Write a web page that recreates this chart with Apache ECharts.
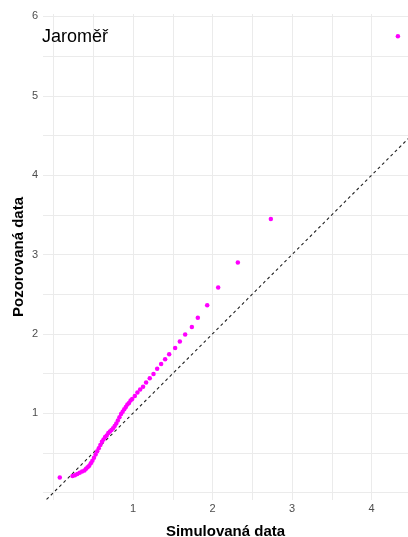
<!DOCTYPE html>
<html>
<head>
<meta charset="utf-8">
<title>Jaroměř</title>
<script src="https://cdn.jsdelivr.net/npm/echarts@6/dist/echarts.min.js"></script>
<style>
  html, body { margin: 0; padding: 0; background: #fff; }
  #chart { width: 408px; height: 537px; }
</style>
</head>
<body>
<div id="chart"></div>
<script>
// simulované (x) a pozorované (y) kvantily
var simData = [
  0.08, 0.24, 0.27, 0.30, 0.33, 0.36, 0.39, 0.41, 0.43, 0.45,
  0.47, 0.49, 0.51, 0.53, 0.55, 0.57, 0.59, 0.61, 0.63, 0.65,
  0.67, 0.69, 0.71, 0.73, 0.75, 0.77, 0.79, 0.81, 0.83, 0.85,
  0.87, 0.89, 0.91, 0.93, 0.95, 0.97, 0.99, 1.023, 1.056, 1.09,
  1.127, 1.165, 1.211, 1.258, 1.304, 1.354, 1.404, 1.455, 1.53, 1.589,
  1.656, 1.74, 1.815, 1.933, 2.071, 2.318, 2.733, 4.33
]
var obsData = [
  0.19, 0.21, 0.22, 0.235, 0.25, 0.265, 0.28, 0.30, 0.32, 0.34,
  0.37, 0.40, 0.44, 0.48, 0.52, 0.56, 0.60, 0.64, 0.67, 0.70,
  0.72, 0.75, 0.77, 0.79, 0.81, 0.84, 0.87, 0.91, 0.95, 0.99,
  1.02, 1.05, 1.08, 1.11, 1.13, 1.16, 1.18, 1.218, 1.26, 1.30,
  1.335, 1.386, 1.441, 1.496, 1.562, 1.622, 1.681, 1.744, 1.823, 1.903,
  1.991, 2.088, 2.202, 2.362, 2.584, 2.899, 3.446, 5.75
]
// referenční přímka y = x
var refLine = [-0.3, 4.7]

var xGrid = [0, 0.5, 1, 1.5, 2, 2.5, 3, 3.5, 4]
var xLabels = [1, 2, 3, 4]
var yGrid = [0, 0.5, 1, 1.5, 2, 2.5, 3, 3.5, 4, 4.5, 5, 5.5, 6]
var yLabels = [1, 2, 3, 4, 5, 6]

var chart = echarts.init(document.getElementById('chart'))
var font = 'Liberation Sans, Arial, sans-serif'

chart.setOption({
  animation: false,
  textStyle: { fontFamily: font },
  title: {
    text: 'Jaroměř',
    left: 42,
    top: 28,
    padding: 0,
    textStyle: { fontSize: 18, fontWeight: 'normal', color: '#000', fontFamily: font }
  },
  grid: { left: 43, right: 0, top: 14, bottom: 37, containLabel: false, outerBoundsMode: 'none' },
  xAxis: {
    type: 'value',
    min: -0.131,
    max: 4.457,
    name: 'Simulovaná data',
    nameLocation: 'middle',
    nameGap: 24,
    nameMoveOverlap: false,
    nameTextStyle: { fontSize: 15, fontWeight: 'bold', color: '#000', fontFamily: font },
    axisLine: { show: false },
    axisTick: { show: false, customValues: xGrid },
    axisLabel: { customValues: xLabels, margin: 3, fontSize: 11, color: '#4d4d4d' },
    splitLine: { show: true, lineStyle: { color: '#ebebeb', width: 1 } }
  },
  yAxis: {
    type: 'value',
    min: -0.093,
    max: 6.03,
    name: 'Pozorovaná data',
    nameLocation: 'middle',
    nameGap: 17,
    nameRotate: 90,
    nameMoveOverlap: false,
    nameTextStyle: { fontSize: 15, fontWeight: 'bold', color: '#000', fontFamily: font },
    axisLine: { show: false },
    axisTick: { show: false, customValues: yGrid },
    axisLabel: { customValues: yLabels, margin: 5, fontSize: 11, color: '#4d4d4d' },
    splitLine: { show: true, lineStyle: { color: '#ebebeb', width: 1 } }
  },
  series: [
    {
      type: 'line',
      data: refLine.map(function (v) { return [v, v] }),
      symbol: 'none',
      clip: true,
      silent: true,
      lineStyle: { color: '#222', width: 1.1, type: [3, 3] },
      z: 1
    },
    {
      type: 'scatter',
      data: simData.map(function (x, i) { return [x, obsData[i]] }),
      symbolSize: 4.5,
      itemStyle: { color: '#ff00ff', opacity: 1 },
      z: 2
    }
  ]
})
</script>
</body>
</html>
